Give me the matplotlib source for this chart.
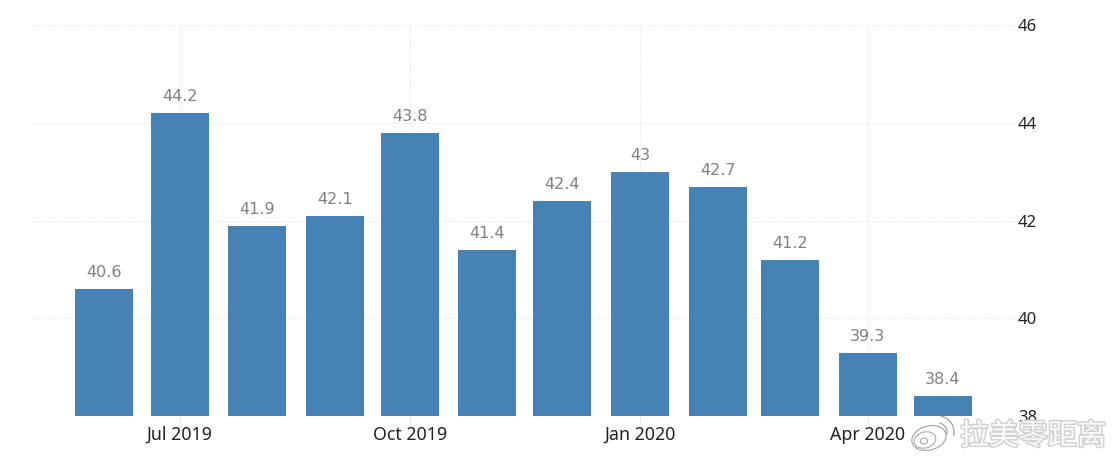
import matplotlib
matplotlib.use("Agg")
import matplotlib.pyplot as plt
import matplotlib.patheffects as pe
from matplotlib.patches import Ellipse, Arc
from datetime import datetime, timedelta

months = ["2019-06-01", "2019-07-01", "2019-08-01", "2019-09-01", "2019-10-01", "2019-11-01",
          "2019-12-01", "2020-01-01", "2020-02-01", "2020-03-01", "2020-04-01", "2020-05-01"]
values = [40.6, 44.2, 41.9, 42.1, 43.8, 41.4, 42.4, 43.0, 42.7, 41.2, 39.3, 38.4]
labels = ["40.6", "44.2", "41.9", "42.1", "43.8", "41.4", "42.4", "43", "42.7", "41.2", "39.3", "38.4"]
x_tick_dates = ["2019-07-01", "2019-10-01", "2020-01-01", "2020-04-01"]
x_tick_labels = ["Jul 2019", "Oct 2019", "Jan 2020", "Apr 2020"]
y_ticks = [38, 40, 42, 44, 46]
watermark = "拉美零距离"

W, H = 1118, 463
plt.rcParams["font.family"] = ["Noto Sans", "DejaVu Sans"]
fig = plt.figure(figsize=(W / 100, H / 100), dpi=100)
L, R, T, B = 32, 1016, 25.5, 416
ax = fig.add_axes([L / W, 1 - B / H, (R - L) / W, (B - T) / H])

dates = [datetime.fromisoformat(m) for m in months]
ticks = [datetime.fromisoformat(m) for m in x_tick_dates]
px_per_day = 2.503
origin = datetime(2019, 7, 1)
ax.set_xlim(origin - timedelta(days=(179.5 - L) / px_per_day), origin + timedelta(days=(R - 179.5) / px_per_day))
ax.set_ylim(38, 46)

ax.bar(dates, [v - 38 for v in values], bottom=38, width=58 / px_per_day, color="#4682b4", zorder=3)
for d, v, s in zip(dates, values, labels):
    ax.annotate(s, (d, v), xytext=(0, 9), textcoords="offset pixels", ha="center", va="bottom",
                fontsize=11.5, color="#808080", family=["DejaVu Sans"], zorder=4)

ax.set_xticks(ticks)
ax.set_xticklabels(x_tick_labels)
ax.set_yticks(y_ticks)
ax.yaxis.tick_right()
ax.grid(True, color="#e8e8e8", lw=0.8, ls=(0, (1, 1)), zorder=0)
ax.set_axisbelow(True)
for s in ax.spines.values():
    s.set_visible(False)
ax.tick_params(axis="x", length=5, width=0.8, color="#e6e6e6", pad=2, labelsize=12.8, labelcolor="#222222")
ax.tick_params(axis="y", length=0, pad=1.5, labelsize=12, labelcolor="#222222")
for lab in ax.get_yticklabels():
    lab.set_ha("left")

# Weibo-style watermark
wax = fig.add_axes([0, 0, 1, 1], zorder=5)
wax.set_xlim(0, W)
wax.set_ylim(H, 0)
wax.axis("off")
wax.patch.set_alpha(0)
gc = "#a0a0a0"
wax.add_patch(Ellipse((929, 438), 35, 24, angle=-15, fc="none", ec=gc, lw=0.8))
wax.add_patch(Ellipse((925, 440), 22, 16, angle=-15, fc="none", ec=gc, lw=0.7))
wax.add_patch(Ellipse((924, 441), 7, 6, fc="none", ec=gc, lw=0.7))
wax.add_patch(Arc((938, 432), 32, 32, theta1=-80, theta2=15, ec=gc, lw=0.9))
wax.add_patch(Arc((938, 432), 18, 18, theta1=-80, theta2=15, ec=gc, lw=0.9))
wax.text(1033, 436.5, watermark, fontsize=21, color="#fafafa", ha="center", va="center",
         family=["Noto Sans CJK SC", "DejaVu Sans"],
         path_effects=[pe.withStroke(linewidth=2.2, foreground="#d2d2d2")])

fig.savefig("out.png", dpi=100)
